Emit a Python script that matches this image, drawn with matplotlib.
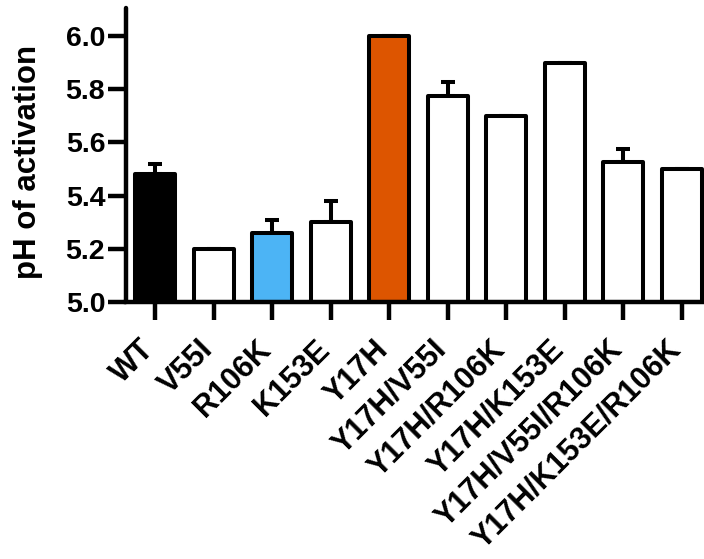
import matplotlib
matplotlib.use('Agg')
import matplotlib.pyplot as plt
import numpy as np

# Datos
mutantes = ['WT', 'V55I', 'R106K', 'K153E', 'Y17H', 'Y17H/V55I', 'Y17H/R106K',
            'Y17H/K153E', 'Y17H/V55I/R106K', 'Y17H/K153E/R106K']
ph_activacion = [5.48, 5.20, 5.26, 5.30, 6.00, 5.775, 5.70, 5.90, 5.525, 5.50]
error_sup = [0.04, 0.0, 0.05, 0.08, 0.0, 0.05, 0.0, 0.0, 0.05, 0.0]
colores = ['#000000', '#ffffff', '#4cb4f5', '#ffffff', '#dd5500',
           '#ffffff', '#ffffff', '#ffffff', '#ffffff', '#ffffff']

plt.rcParams['font.family'] = ['Liberation Sans', 'DejaVu Sans']
plt.rcParams['font.weight'] = 'bold'

fig = plt.figure(figsize=(7.04, 5.59), dpi=100)
ax = fig.add_axes([126 / 704, (559 - 302) / 559, 1 - 126 / 704, 294 / 559])

x = np.arange(len(mutantes))
lw = 2.9

# Barras de error (solo hacia arriba)
ax.errorbar(x, ph_activacion, yerr=[np.zeros(len(error_sup)), error_sup],
            fmt='none', ecolor='black', elinewidth=lw, capsize=5, capthick=lw,
            zorder=1)
barras = ax.bar(x, np.array(ph_activacion) - 5.0, bottom=5.0, width=0.68,
                color=colores, edgecolor='black', linewidth=lw, zorder=2)
for b in barras:
    b.set_joinstyle('round')

ax.set_xlim(-0.5, 9.38)
ax.set_ylim(5.0, 6.105)
ax.set_yticks([5.0, 5.2, 5.4, 5.6, 5.8, 6.0])
ax.set_yticklabels(['5.0', '5.2', '5.4', '5.6', '5.8', '6.0'])
ax.set_xticks(x)
ax.set_xticklabels(mutantes, rotation=45, ha='right', va='baseline',
                   rotation_mode='anchor', fontsize=22, fontweight='bold')

ax.spines['top'].set_visible(False)
ax.spines['right'].set_visible(False)
ax.spines['left'].set_linewidth(3.2)
ax.spines['bottom'].set_linewidth(3.2)
ax.spines['left'].set_capstyle('round')
ax.tick_params(axis='y', length=13, width=3.2, labelsize=20.5, pad=2)
ax.tick_params(axis='x', length=13, width=3.2, pad=22)

ax.set_ylabel('pH of activation', fontsize=22.5, fontweight='bold')
ax.yaxis.set_label_coords(-0.1436, 0.476)

fig.savefig('out.png', dpi=100)
